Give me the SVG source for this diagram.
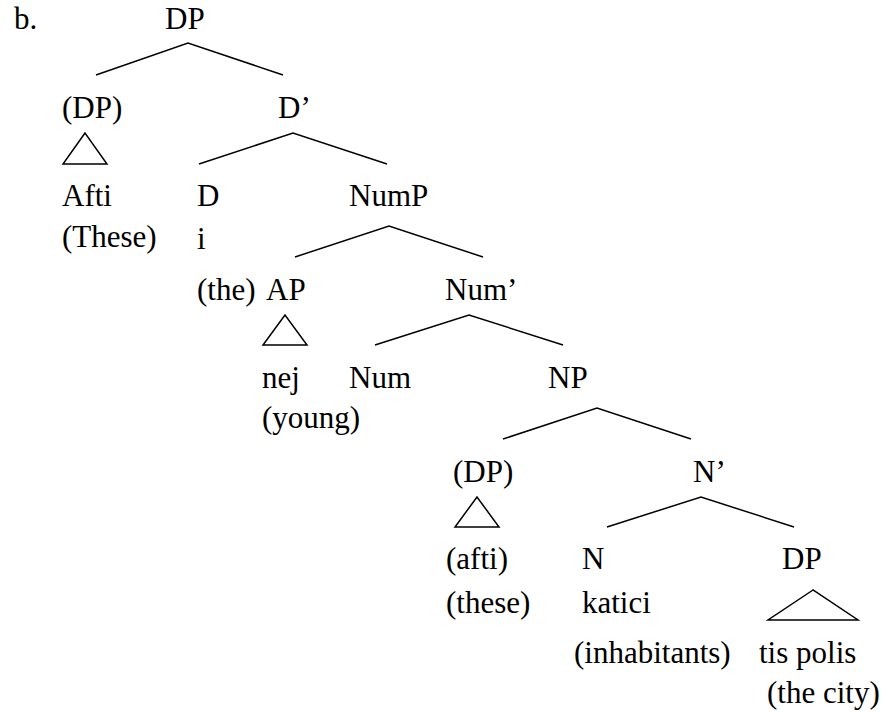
<svg xmlns="http://www.w3.org/2000/svg" width="883" height="714" viewBox="0 0 883 714">
<style>
text { font-family: "Liberation Serif", "Times New Roman", serif; font-size: 31px; fill: #000; }
.e { stroke: #000; stroke-width: 1.5; fill: none; }
</style>
<rect width="883" height="714" fill="#fff"/>
<text x="14" y="29">b.</text>
<g id="n-dp"><text x="165" y="29">DP</text></g>
<g id="n-dp-spec"><text x="62" y="118">(DP)</text><polygon class="e" points="85,133 63,164 107,164"/><text x="62" y="206">Afti</text><text x="62" y="247">(These)</text></g>
<g id="n-dbar"><text x="278" y="118">D’</text></g>
<g id="n-d"><text x="197" y="206">D</text><text x="197" y="249">i</text><text x="197" y="300">(the)</text></g>
<g id="n-nump"><text x="349" y="206">NumP</text></g>
<g id="n-ap"><text x="266" y="300">AP</text><polygon class="e" points="285,315 263,345 307,345"/><text x="262" y="388">nej</text><text x="262" y="428">(young)</text></g>
<g id="n-numbar"><text x="445" y="300">Num’</text></g>
<g id="n-num"><text x="349" y="388">Num</text></g>
<g id="n-np"><text x="548" y="388">NP</text></g>
<g id="n-np-spec"><text x="453" y="482">(DP)</text><polygon class="e" points="477,497 455,527 499,527"/><text x="446" y="569">(afti)</text><text x="446" y="613">(these)</text></g>
<g id="n-nbar"><text x="693" y="482">N’</text></g>
<g id="n-n"><text x="582" y="569">N</text><text x="582" y="613">katici</text><text x="574" y="663">(inhabitants)</text></g>
<g id="n-dp-comp"><text x="782" y="569">DP</text><polygon class="e" points="813,590 768,620 858,620"/><text x="759" y="663">tis polis</text><text x="767" y="703">(the city)</text></g>
<g id="edges" class="e">
<polyline points="96,75 188,43 283,75"/>
<polyline points="199,164 293,133 387,164"/>
<polyline points="295,257 389,226 483,257"/>
<polyline points="375,345 469,315 563,345"/>
<polyline points="503,439 597,408 691,439"/>
<polyline points="607,527 701,497 794,527"/>
</g>
</svg>
